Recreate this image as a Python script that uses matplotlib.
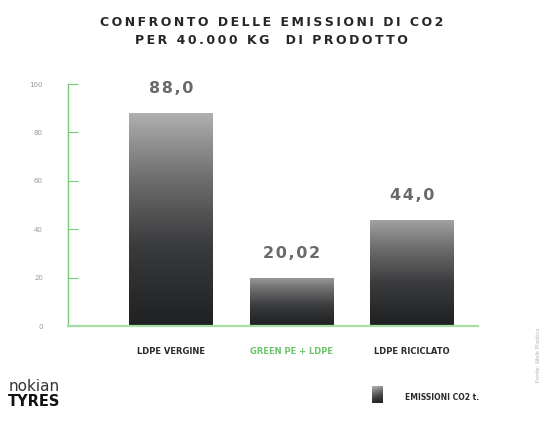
import numpy as np
import matplotlib
matplotlib.use("Agg")
import matplotlib.pyplot as plt
from matplotlib.colors import LinearSegmentedColormap

categorie = ["LDPE VERGINE", "GREEN PE + LDPE", "LDPE RICICLATO"]
emissioni = [88.0, 20.02, 44.0]
etichette = ["88,0", "20,02", "44,0"]
colori_cat = ["#2b2b2b", "#6cc46c", "#2b2b2b"]
yticks = [0, 20, 40, 60, 80, 100]

verde = "#78c878"
grigio = LinearSegmentedColormap.from_list("grigio", ["#1f2123", "#3a3b3d", "#707070", "#b4b4b4"])


def spaziato(s, sep="\u2009"):
    # lettere distanziate come nell'originale
    return sep.join(s)


fig = plt.figure(figsize=(5.47, 4.33), dpi=100)
fig.patch.set_facecolor("white")
ax = fig.add_axes([0.1243, 0.246, 0.7495, 0.560])

x = np.arange(len(categorie))
barre = ax.bar(x, emissioni, width=0.69, color="none", edgecolor="none", zorder=2)

grad = np.linspace(0, 1, 256).reshape(-1, 1)
for b, v, et in zip(barre, emissioni, etichette):
    x0 = b.get_x()
    # la parte alta della barra e' piu' chiara, il fondo scuro
    top = 0.85 + 0.15 * v / 100
    g = grad ** 1.1 * top
    im = ax.imshow(g, cmap=grigio, vmin=0, vmax=1, origin="lower",
                   extent=[x0, x0 + b.get_width(), 0, v], aspect="auto", zorder=2)
    im.set_clip_path(b)
    ax.text(b.get_x() + b.get_width() / 2, v + 7, spaziato(et, "\u200a"),
            ha="center", va="bottom", fontsize=11.5, color="#6a6a6a", fontweight="bold")

ax.set_xlim(-0.855, 2.55)
ax.set_ylim(0, 100)
ax.set_yticks(yticks)
ax.set_yticklabels([str(t) for t in yticks], fontsize=5, color="#9a9a9a")
ax.tick_params(axis="y", direction="in", length=7, width=0.8, color=verde, pad=18)
ax.set_xticks(x)
ax.set_xticklabels(categorie, fontsize=6, fontweight="bold")
for lab, c in zip(ax.get_xticklabels(), colori_cat):
    lab.set_color(c)
ax.tick_params(axis="x", length=0, pad=15)

for s in ["top", "right"]:
    ax.spines[s].set_visible(False)
ax.spines["left"].set_color(verde)
ax.spines["left"].set_linewidth(1.0)
ax.spines["bottom"].set_color("#a6dea6")
ax.spines["bottom"].set_linewidth(1.6)

# titolo
fig.text(0.497, 0.948, spaziato("CONFRONTO DELLE EMISSIONI DI CO2"), ha="center", va="center",
         fontsize=9, fontweight="heavy", color="#262626")
fig.text(0.497, 0.906, spaziato("PER 40.000 KG  DI PRODOTTO"), ha="center", va="center",
         fontsize=9, fontweight="heavy", color="#262626")

# logo
fig.text(0.015, 0.108, "nokian", ha="left", va="center", fontsize=11, color="#333333",
         family="DejaVu Sans")
fig.text(0.015, 0.073, "TYRES", ha="left", va="center", fontsize=10.5, color="#111111",
         fontweight="heavy", family="DejaVu Sans")

# legenda
lax = fig.add_axes([372 / 547, 1 - 403 / 433, 11 / 547, 17 / 433])
lg = np.add.outer(np.linspace(1, 0, 20), np.linspace(0.2, 0, 20))
lax.imshow(lg, cmap=grigio, vmin=0, vmax=1.2, aspect="auto")
lax.axis("off")
fig.text(405 / 547, 1 - 397 / 433, "EMISSIONI CO2 t.", ha="left", va="center",
         fontsize=5.5, fontweight="bold", color="#2b2b2b")

fig.text(0.985, 0.18, "Fonte: Wolk Plastics", rotation=90, ha="center", va="center",
         fontsize=4, color="#b0b0b0")

fig.savefig("out.png", dpi=100, facecolor="white")
